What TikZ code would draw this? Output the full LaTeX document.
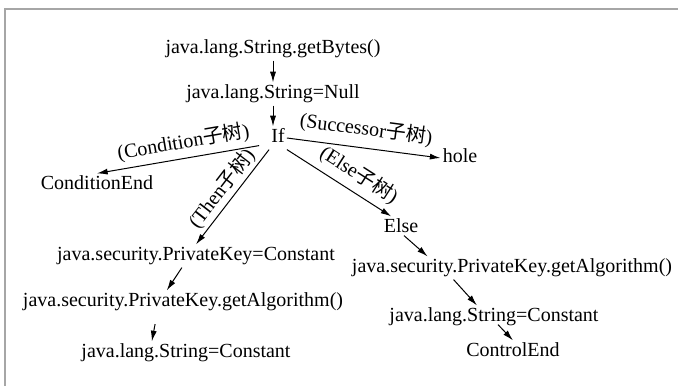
\documentclass[tikz,border=0pt]{standalone}
\usepackage{fontspec}
\setmainfont{Liberation Serif}
\newfontfamily\cjk{Noto Sans CJK SC}
\usepackage{tikz}
\usetikzlibrary{arrows.meta,calc}

\begin{document}
\begin{tikzpicture}[x=.75pt,y=-.75pt,
    font=\fontsize{15}{18}\selectfont,
    stmt/.style={inner sep=1.5pt,text height=10.5pt,text depth=3.5pt},
    flow/.style={-{Latex[length=8pt,width=4.5pt]},line width=.75pt},
    tag/.style={midway,above=1pt,sloped,inner sep=1pt}]
  \useasboundingbox (0,0) rectangle (678,386);
  % Frame: only the top and left rules are printed.
  \draw[black!35,line width=1.5pt] (4.5,386)--(4.5,8.5)--(678,8.5);

  % Main sequence down to the branch.
  \node[stmt] (getbytes) at (273,49) {java.lang.String.getBytes()};
  \node[stmt] (strnull) at (273,94) {java.lang.String=Null};
  \node[stmt] (ifnode) at (278,138) {If};
  \draw[flow] (getbytes)--(strnull);
  \draw[flow] (strnull)--(ifnode.north -| strnull);

  % Sub-trees of the If node.
  \node[stmt] (condend) at (97,185) {ConditionEnd};
  \node[stmt] (hole) at (460,158) {hole};
  \node[stmt] (elsenode) at (401,228) {Else};
  \node[stmt] (thenkey) at (196,256) {java.security.PrivateKey=Constant};
  \draw[flow] ($(ifnode.south west)+(-10,-4)$)--(condend.north)
    node[tag,pos=.45,above=2pt]{(Condition{\cjk 子树})};
  \draw[flow] (ifnode.east)--(hole.west)
    node[tag,above=4pt]{(Successor{\cjk 子树})};
  \draw[flow] (ifnode.south west)--(thenkey.north)
    node[tag]{(Then{\cjk 子树})};
  \draw[flow] (ifnode.south east)--(elsenode.130)
    node[tag,pos=.6,above=3pt]{(Else{\cjk 子树})};

  % Then branch.
  \node[stmt] (thenalg) at (183,302) {java.security.PrivateKey.getAlgorithm()};
  \node[stmt] (thenstr) at (186,353) {java.lang.String=Constant};
  \draw[flow] ($(thenkey.south west)!.45!(thenkey.south east)$)--
    ($(thenalg.north west)!.45!(thenalg.north east)$);
  \draw[flow,shorten <=8pt] ($(thenalg.south west)!.42!(thenalg.south east)$)--
    ($(thenstr.north west)!.34!(thenstr.north east)$);

  % Else branch.
  \node[stmt] (elsealg) at (512,268) {java.security.PrivateKey.getAlgorithm()};
  \node[stmt] (elsestr) at (494,317) {java.lang.String=Constant};
  \node[stmt] (ctrlend) at (513,352) {ControlEnd};
  \draw[flow] ($(elsenode.south)+(3,-4)$)--
    ($(elsealg.north west)!.24!(elsealg.north east)$);
  \draw[flow] ($(elsealg.south west)!.32!(elsealg.south east)$)--
    ($(elsestr.north west)!.42!(elsestr.north east)$);
  \draw[flow] ($(elsestr.south)+(4,-4)$)--(ctrlend.north);
\end{tikzpicture}
\end{document}
